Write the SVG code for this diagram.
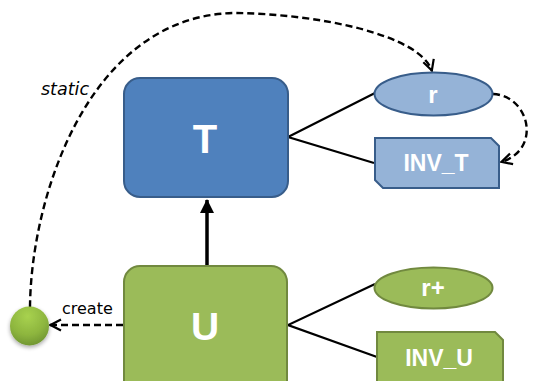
<svg xmlns="http://www.w3.org/2000/svg" width="533" height="381" viewBox="0 0 533 381">
  <style>
    .lbl { font-family: "Liberation Sans", Arial, sans-serif; font-weight: bold; fill: #ffffff; text-anchor: middle; }
    .blue { fill: #4F81BD; stroke: #385D8A; stroke-width: 2; }
    .lblue { fill: #95B3D7; stroke: #385D8A; stroke-width: 2; }
    .green { fill: #9BBB59; stroke: #71893F; stroke-width: 2; }
    .solid { fill: none; stroke: #000; stroke-width: 2.2; }
    .dash { fill: none; stroke: #000; stroke-width: 2.4; stroke-dasharray: 7 4; }
    .note { font-family: "DejaVu Sans", Verdana, sans-serif; fill: #000; }
  </style>
  <defs>
    <marker id="open" viewBox="0 0 14 14" refX="13" refY="7" markerWidth="14" markerHeight="14" markerUnits="userSpaceOnUse" orient="auto">
      <path d="M2,1.5 L12.5,7 L2,12.5" fill="none" stroke="#000" stroke-width="2.2"/>
    </marker>
    <marker id="solidHead" viewBox="0 0 14 14" refX="13" refY="7" markerWidth="20" markerHeight="14" markerUnits="userSpaceOnUse" orient="auto">
      <path d="M0,0 L14,7 L0,14 Z" fill="#000"/>
    </marker>
    <radialGradient id="ball" cx="0.45" cy="0.25" r="0.8">
      <stop offset="0" stop-color="#A8D24F"/>
      <stop offset="0.6" stop-color="#8DB53E"/>
      <stop offset="1" stop-color="#6C9130"/>
    </radialGradient>
    <filter id="shadow" x="-30%" y="-30%" width="160%" height="170%">
      <feGaussianBlur in="SourceAlpha" stdDeviation="2"/>
      <feOffset dx="0" dy="2" result="b"/>
      <feComponentTransfer><feFuncA type="linear" slope="0.35"/></feComponentTransfer>
      <feMerge><feMergeNode/><feMergeNode in="SourceGraphic"/></feMerge>
    </filter>
  </defs>

  <!-- connectors -->
  <g id="connectors">
    <path class="dash" d="M30,307 C 31,195 90,15 235,13 C 320,14 420,35 432,71" marker-end="url(#open)"/>
    <path class="dash" d="M493,94 C 530,96 542,150 501,162" marker-end="url(#open)"/>
    <path class="dash" d="M123,325 L 50,325" marker-end="url(#open)"/>
    <path class="solid" d="M375,93 L 288,137 L 374,163"/>
    <path class="solid" d="M375,284 L 288,325 L 377,357"/>
    <path d="M207,265 L 207,200" fill="none" stroke="#000" stroke-width="3.5" marker-end="url(#solidHead)"/>
    <text class="note" x="41" y="95" font-size="17.5" font-style="italic">static</text>
    <text class="note" x="62" y="314" font-size="16">create</text>
  </g>

  <g id="T">
    <rect class="blue" x="124" y="78" width="164" height="119" rx="16"/>
    <text class="lbl" x="205" y="153" font-size="40">T</text>
  </g>

  <g id="U">
    <rect class="green" x="124" y="266" width="163" height="140" rx="16"/>
    <text class="lbl" x="205" y="340" font-size="39">U</text>
  </g>

  <g id="r">
    <ellipse class="lblue" cx="433.5" cy="94" rx="59" ry="21.5"/>
    <text class="lbl" x="433" y="103" font-size="24">r</text>
  </g>

  <g id="INV_T">
    <path class="lblue" d="M375,138 L 491,138 L 499,146 L 499,188 L 383,188 L 375,180 Z"/>
    <text class="lbl" x="436" y="171" font-size="23">INV_T</text>
  </g>

  <g id="r_plus">
    <ellipse class="green" cx="433.5" cy="288" rx="59" ry="20.5"/>
    <text class="lbl" x="433" y="296" font-size="24">r+</text>
  </g>

  <g id="INV_U">
    <path class="green" d="M377,332 L 495,332 L 503,340 L 503,395 L 377,395 Z"/>
    <text class="lbl" x="439" y="366" font-size="23">INV_U</text>
  </g>

  <g id="instance">
    <circle cx="29.5" cy="326" r="19.5" fill="url(#ball)" filter="url(#shadow)"/>
  </g>
</svg>
